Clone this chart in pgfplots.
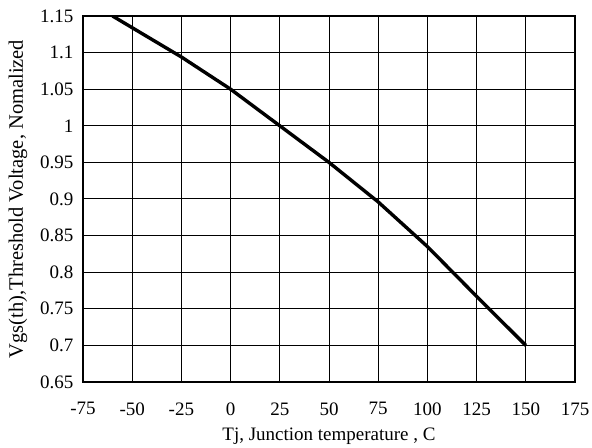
\documentclass[border=0pt]{standalone}
\usepackage{fontspec}
\setmainfont{Liberation Serif}
\usepackage{pgfplots}
\pgfplotsset{compat=1.18}
\begin{document}
\begin{tikzpicture}
\useasboundingbox (0,0) rectangle (592bp,448bp);
\begin{axis}[
  at={(83bp,66bp)}, anchor=south west,
  scale only axis, width=492bp, height=366bp,
  xmin=-75, xmax=175, ymin=0.65, ymax=1.15,
  xtick={-75,-50,...,175},
  ytick={0.65,0.7,0.75,0.8,0.85,0.9,0.95,1,1.05,1.1,1.15},
  yticklabels={0.65,0.7,0.75,0.8,0.85,0.9,0.95,1,1.05,1.1,1.15},
  xticklabels={-75,-50,-25,0,25,50,75,100,125,150,175},
  grid=major,
  major grid style={black, line width=1bp},
  axis line style={black, line width=1.8bp},
  major tick length=0pt,
  tick label style={font=\fontsize{19bp}{22bp}\selectfont},
  yticklabel style={xshift=-6bp},
  xticklabel style={yshift=-17bp},
  xlabel style={font=\fontsize{19bp}{22bp}\selectfont, yshift=-6bp},
  ylabel style={font=\fontsize{20.5bp}{24bp}\selectfont, yshift=6bp},
  xlabel={Tj, Junction temperature , C},
  ylabel={Vgs(th),Threshold Voltage, Nomalized},
]
\addplot[black, line width=3.4bp, line join=round] coordinates {
(-60,1.15) (-25,1.094) (0,1.05) (25,1.0) (50,0.95) (75,0.896) (100,0.835) (125,0.767) (150,0.70)
};
\end{axis}
\end{tikzpicture}
\end{document}
